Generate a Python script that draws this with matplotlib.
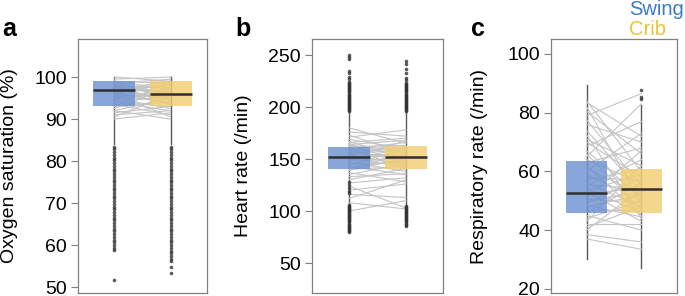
import matplotlib
matplotlib.use("Agg")
import matplotlib.pyplot as plt

plt.rcParams['font.family'] = ['Liberation Sans', 'DejaVu Sans']

# ---------------- data ----------------
groups = ["Swing", "Crib"]

# Panel a: oxygen saturation (%)
a_swing_box = [93, 97, 99]        # q1, median, q3
a_swing_whisk = [84, 100]
a_crib_box = [93, 96, 99]
a_crib_whisk = [84, 100]
a_swing_out = [83.4, 82.8, 82.1, 81.5, 80.8, 80.2, 79.5, 78.9, 78.2, 77.6, 76.9, 76.3,
               75.6, 75.0, 74.3, 73.7, 73.0, 72.4, 71.7, 71.1, 70.4, 69.8, 69.1, 68.5,
               67.8, 67.2, 66.5, 65.9, 65.2, 64.6, 63.9, 63.3, 62.6, 62.0, 61.3, 60.7,
               60.0, 59.4, 58.8, 51.7]
a_crib_out = [83.4, 82.8, 82.1, 81.5, 80.8, 80.2, 79.5, 78.9, 78.2, 77.6, 76.9, 76.3,
              75.6, 75.0, 74.3, 73.7, 73.0, 72.4, 71.7, 71.1, 70.4, 69.8, 69.1, 68.5,
              67.8, 67.2, 66.5, 65.9, 65.2, 64.6, 63.9, 63.3, 62.6, 62.0, 61.3, 60.7,
              60.0, 59.4, 58.7, 58.1, 57.4, 56.8, 56.2, 54.7, 53.4]
a_swing_pairs = [100, 99.5, 99, 99, 98.5, 98.5, 98, 98, 97.5, 97.5, 97, 97, 97, 96.5, 96.5,
                 96, 96, 95.5, 95.5, 95, 95, 94.5, 94, 94, 93.5, 93, 92.5, 92, 91.5, 91,
                 90.5, 90, 99, 98, 97, 96, 95, 94, 93, 92]
a_crib_pairs = [99, 100, 97, 98.5, 96, 99.5, 95.5, 97.5, 98, 96.5, 95, 99, 94.5, 97, 93.5,
                98.5, 95, 96, 94, 97, 92.5, 96.5, 93, 95.5, 91, 94, 97.5, 90, 93, 92,
                96, 91.5, 94.5, 93.5, 98, 90.5, 96, 92, 99, 95]
a_ticks = [50, 60, 70, 80, 90, 100]

# Panel b: heart rate (/min)
b_swing_box = [140, 152, 161.5]
b_swing_whisk = [107, 195]
b_crib_box = [140, 152, 162.5]
b_crib_whisk = [106, 195]
b_swing_out = [250, 248.5, 246, 235, 232.5, 229, 227, 224, 223, 222, 221, 220, 219, 218,
               217, 216, 215, 214, 213, 212, 211, 210, 209, 208, 207, 206, 205, 204, 203,
               202, 201, 200, 199, 198, 197, 196, 128, 125, 122, 119, 117,
               106, 105, 104, 103, 102, 101, 100, 99, 98, 97, 96, 95, 94, 93, 92, 91, 90,
               89, 88, 87, 86, 85, 84, 83, 82, 81, 80]
b_crib_out = [244, 241, 237, 233, 228, 226, 223, 222, 221, 220, 219, 218, 217, 216, 215,
              214, 213, 212, 211, 210, 209, 208, 207, 206, 205, 204, 203, 202, 201, 200,
              199, 198, 197, 196, 105, 104, 103, 102, 101, 100, 99, 98, 97, 96, 95, 94,
              93, 92, 91, 90, 89, 88, 87, 86]
b_swing_pairs = [180, 176, 173, 171, 169, 167, 166, 165, 164, 163, 162, 161, 160, 159, 158,
                 157, 156, 155, 154, 153, 152, 151, 150, 149, 148, 147, 146, 145, 144, 143,
                 142, 141, 140, 139, 137, 135, 133, 130, 127, 124, 120, 116, 112, 108, 100]
b_crib_pairs = [165, 172, 155, 178, 160, 150, 170, 145, 168, 158, 163, 140, 156, 166, 148,
                161, 152, 159, 144, 167, 154, 142, 157, 150, 162, 138, 153, 147, 160, 135,
                149, 155, 143, 151, 128, 146, 136, 141, 132, 103, 126, 113, 130, 102, 110]
b_ticks = [50, 100, 150, 200, 250]

# Panel c: respiratory rate (/min)
c_swing_box = [46, 52.8, 63.7]
c_swing_whisk = [30.3, 89.5]
c_crib_box = [46, 54, 60.8]
c_crib_whisk = [27.2, 82.5]
c_swing_out = []
c_crib_out = [87.8, 85.4, 84.6]
c_swing_pairs = [84, 83.5, 82, 80.5, 79, 77.5, 76, 74, 72.5, 71, 70, 68.5, 67, 66, 65, 64,
                 63, 62, 61, 60, 59, 58, 57, 56, 55.5, 55, 54, 53.5, 53, 52, 51, 50.5, 50,
                 49, 48.5, 48, 47, 46, 45, 44, 43, 42, 41, 40, 38.5, 37]
c_crib_pairs = [60, 72, 49, 66, 86.5, 55, 70, 53, 44, 62, 58, 77, 51, 47, 83, 56, 68, 45,
                52, 73, 50, 57, 61, 48, 54, 64, 46, 59, 43, 55, 67, 49.5, 53, 58, 44.5, 52,
                47, 56, 40, 50, 62, 42, 48, 54, 36, 33.5]
c_ticks = [20, 40, 60, 80, 100]

# ---------------- styling ----------------
box_colors = ["#6A90D1", "#F2CE6F"]
legend_colors = ["#3A7BC6", "#EBC33A"]
frame_color = "#808080"

W, H = 685, 296
fig = plt.figure(figsize=(W / 100, H / 100), dpi=100)


def make_panel(left_px, width_px, ylim, ticks, ylabel, label_x, letter, letter_x,
               boxes, whisks, outs, pair_sw, pair_cr):
    ax = fig.add_axes([left_px / W, 3 / H, width_px / W, 254 / H])
    # paired subject lines
    for s, c in zip(pair_sw, pair_cr):
        ax.plot([1, 2], [s, c], color="#c4c4c4", lw=0.8, zorder=1)
    for i, (bx, wk, ot) in enumerate(zip(boxes, whisks, outs)):
        pos = i + 1
        ax.plot([pos, pos], wk, color="#5a5a5a", lw=1.0, zorder=0.5)
        if ot:
            ax.plot([pos] * len(ot), ot, ls="none", marker="o", ms=2.6,
                    mfc="#333333", mec="none", alpha=0.8, zorder=2)
        q1, med, q3 = bx
        ax.bar(pos, q3 - q1, bottom=q1, width=0.75, color=box_colors[i],
               alpha=0.8, edgecolor="none", zorder=3)
        ax.plot([pos - 0.375, pos + 0.375], [med, med], color="#2f2f2f",
                lw=1.8, zorder=4, solid_capstyle="butt")
    ax.set_xlim(0.35, 2.65)
    ax.set_ylim(*ylim)
    ax.set_yticks(ticks)
    ax.set_xticks([])
    ax.tick_params(axis="y", length=5, width=0.8, color=frame_color,
                   labelsize=14, pad=3)
    for sp in ax.spines.values():
        sp.set_color(frame_color)
        sp.set_linewidth(0.9)
    fig.text(label_x / W, 1 - 166 / H, ylabel, fontsize=14, rotation=90,
             ha="left", va="center")
    fig.text(letter_x / W, 1 - 36 / H, letter, fontsize=18, fontweight="bold",
             ha="left", va="baseline")
    return ax


make_panel(78, 129, (48.6, 109.05), a_ticks, "Oxygen saturation (%)", 1, "a", 2,
           [a_swing_box, a_crib_box], [a_swing_whisk, a_crib_whisk],
           [a_swing_out, a_crib_out], a_swing_pairs, a_crib_pairs)
make_panel(312, 131, (21.2, 265.4), b_ticks, "Heart rate (/min)", 235, "b", 235,
           [b_swing_box, b_crib_box], [b_swing_whisk, b_crib_whisk],
           [b_swing_out, b_crib_out], b_swing_pairs, b_crib_pairs)
make_panel(551, 126, (18.6, 105.1), c_ticks, "Respiratory rate (/min)", 471, "c", 471,
           [c_swing_box, c_crib_box], [c_swing_whisk, c_crib_whisk],
           [c_swing_out, c_crib_out], c_swing_pairs, c_crib_pairs)

fig.text(629 / W, 1 - 15 / H, groups[0], color=legend_colors[0], fontsize=14.5,
         ha="left", va="baseline")
fig.text(629 / W, 1 - 35 / H, groups[1], color=legend_colors[1], fontsize=14.5,
         ha="left", va="baseline")

fig.savefig("out.png", dpi=100)
